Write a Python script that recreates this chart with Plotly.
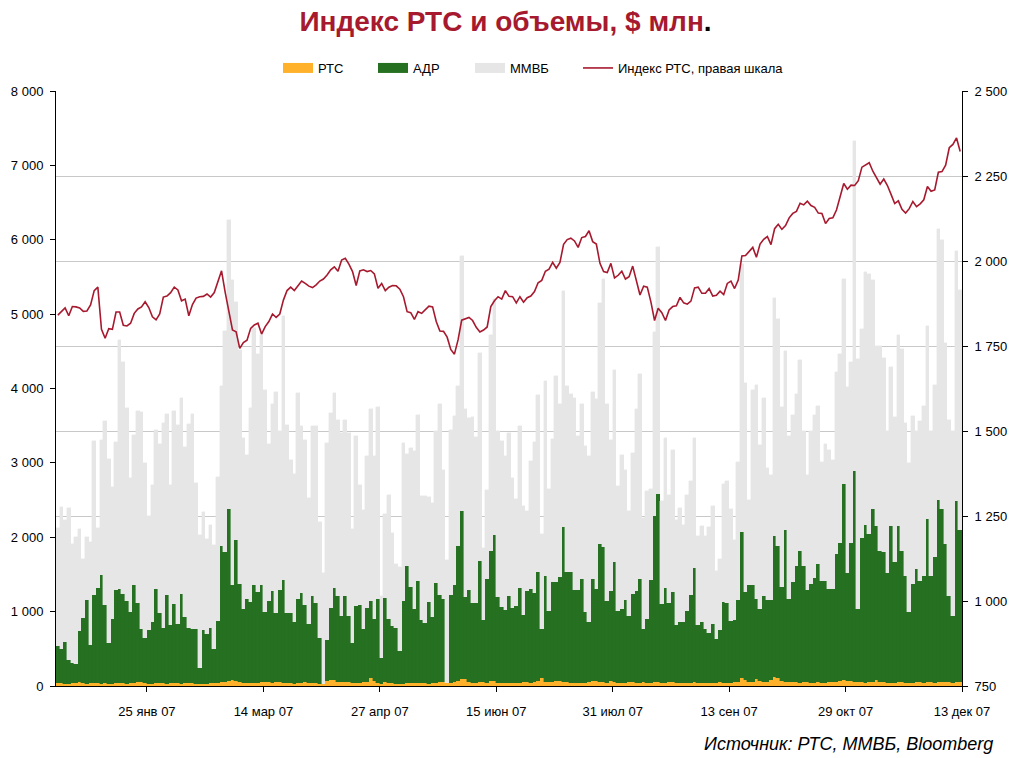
import plotly.graph_objects as go

# ---------------- data ----------------
rts = [35, 45, 30, 25, 40, 38, 50, 42, 30, 35,
       45, 40, 30, 35, 32, 28, 40, 45, 38, 30,
       35, 42, 48, 50, 36, 30, 28, 35, 40, 42,
       30, 38, 42, 35, 30, 40, 45, 38, 30, 25,
       28, 32, 35, 40, 45, 55, 60, 70, 85, 62,
       55, 40, 38, 35, 42, 45, 50, 52, 48, 45,
       50, 48, 42, 38, 35, 30, 40, 45, 50, 42,
       38, 35, 30, 28, 65, 80, 75, 60, 55, 58,
       50, 45, 40, 42, 55, 60, 110, 70, 45, 30,
       60, 40, 35, 30, 28, 32, 35, 40, 42, 45,
       40, 35, 30, 38, 42, 55, 60, 35, 40, 50,
       65, 95, 90, 60, 45, 40, 55, 50, 45, 70,
       65, 45, 40, 38, 35, 40, 42, 45, 50, 48,
       45, 50, 70, 105, 60, 50, 55, 70, 65, 55,
       50, 45, 42, 40, 38, 42, 60, 70, 72, 55,
       50, 45, 70, 55, 45, 42, 40, 50, 60, 45,
       40, 55, 45, 42, 48, 60, 45, 40, 55, 50,
       45, 42, 38, 40, 42, 55, 45, 40, 38, 35,
       40, 45, 50, 42, 38, 45, 50, 55, 110, 80,
       60, 55, 95, 70, 60, 55, 85, 120, 110, 65,
       55, 50, 60, 55, 45, 50, 55, 45, 40, 50,
       45, 40, 50, 55, 60, 65, 80, 70, 65, 60,
       55, 50, 45, 55, 60, 75, 55, 50, 45, 40,
       45, 50, 48, 42, 40, 45, 50, 55, 45, 50,
       48, 45, 55, 60, 50, 48, 45, 55, 60]

adr = [503, 457, 562, 325, 274, 262, 689, 877, 1126, 521,
       1174, 1278, 1458, 1050, 546, 873, 1251, 1259, 1194, 1113,
       965, 1316, 1063, 716, 609, 723, 832, 1269, 937, 738,
       1189, 778, 1056, 799, 1202, 883, 735, 724, 732, 217,
       725, 667, 740, 462, 829, 1827, 1746, 2310, 1273, 1901,
       1316, 995, 1132, 1094, 1316, 1219, 1308, 943, 1095, 1232,
       931, 1243, 1383, 943, 946, 830, 1130, 1205, 1039, 792,
       1172, 1076, 615, 0, 553, 969, 1243, 1150, 886, 1152,
       891, 533, 1036, 1047, 711, 989, 1033, 831, 1125, 346,
       1123, 861, 772, 750, 443, 1111, 1578, 1291, 998, 1367,
       847, 817, 1099, 894, 1343, 1169, 1110, 0, 1184, 1308,
       1817, 2258, 1107, 1231, 1071, 1076, 1626, 837, 1394, 1745,
       1965, 1152, 1022, 984, 1175, 1009, 1034, 1273, 905, 1229,
       1259, 1200, 1463, 661, 1419, 958, 1343, 1328, 1400, 2083,
       1483, 1488, 1253, 1255, 1401, 953, 800, 1369, 1232, 1854,
       1819, 1098, 1207, 1612, 963, 993, 1116, 891, 1177, 1232,
       1399, 711, 856, 1383, 2238, 2521, 1057, 1278, 1061, 1214,
       775, 818, 822, 968, 1182, 1532, 775, 820, 728, 678,
       794, 587, 703, 1087, 1078, 829, 837, 1101, 1961, 1184,
       1298, 1303, 1075, 965, 1150, 1101, 1071, 1897, 1767, 1265,
       2038, 1121, 1337, 1563, 1765, 1563, 1236, 1328, 1414, 1592,
       1366, 1371, 1255, 1250, 1711, 1860, 2637, 1451, 1860, 2825,
       986, 1942, 2115, 1990, 2321, 2080, 1755, 1750, 1476, 2110,
       1621, 2100, 1762, 1432, 949, 1332, 1519, 1356, 1429, 2197,
       1426, 1693, 2442, 2317, 1856, 1161, 895, 2427, 2033]

mmvb = [1582, 1905, 1640, 2039, 1595, 1703, 1372, 788, 847, 1384,
        2075, 802, 1819, 2482, 2474, 1779, 1990, 3348, 3124, 2590,
        1801, 2017, 2586, 2918, 2349, 1533, 1842, 2138, 2277, 2756,
        2438, 1886, 2599, 2675, 2636, 2290, 2743, 2895, 1963, 1788,
        1586, 1277, 1390, 1394, 1941, 2156, 2967, 3885, 4101, 3204,
        3147, 2295, 1936, 2604, 3451, 3200, 3361, 2985, 2111, 2514,
        2972, 2138, 3550, 2528, 2058, 1990, 2769, 2246, 2219, 1698,
        2286, 2385, 1560, 1496, 2649, 2621, 2621, 2366, 2461, 2366,
        2461, 1533, 2285, 1613, 1600, 2043, 2581, 2191, 2581, 834,
        1130, 1667, 1250, 865, 1133, 2124, 1506, 1869, 2120, 2232,
        1668, 1703, 1408, 1528, 2044, 2567, 1734, 1659, 2218, 2272,
        2152, 3428, 2527, 2312, 2505, 2236, 2796, 968, 1196, 2904,
        3173, 2232, 2232, 2070, 2192, 1752, 1438, 2178, 1465, 1076,
        1721, 2031, 2380, 1278, 2618, 1641, 1923, 2770, 2326, 3173,
        2501, 2393, 2577, 2066, 2352, 2232, 2232, 2514, 2555, 3237,
        3603, 2648, 2030, 2582, 1681, 2071, 1748, 1412, 1896, 2447,
        2756, 1493, 1721, 1224, 2474, 3321, 1385, 2016, 1452, 1909,
        1412, 1533, 1305, 1560, 1532, 1747, 1197, 1291, 1251, 1425,
        1586, 914, 955, 1587, 1640, 1506, 1076, 1856, 3603, 2810,
        1143, 2622, 2877, 2205, 2662, 1775, 1681, 3200, 3064, 2415,
        2416, 2190, 2247, 2314, 2574, 1810, 1546, 2050, 2190, 2122,
        1599, 1844, 1873, 1734, 2449, 2540, 2756, 2502, 2430, 4442,
        3357, 2809, 3400, 3500, 3078, 2411, 2756, 2613, 1907, 2143,
        1949, 2565, 2722, 2064, 2016, 2253, 1859, 2151, 2290, 2593,
        1954, 2309, 3649, 3620, 2708, 2363, 2488, 3361, 3236]

rts_index = [1841, 1853, 1862, 1839, 1866, 1865, 1862, 1852, 1853, 1871,
             1913, 1923, 1799, 1773, 1801, 1799, 1850, 1850, 1811, 1809,
             1817, 1846, 1859, 1865, 1880, 1863, 1836, 1827, 1844, 1894,
             1897, 1907, 1923, 1915, 1883, 1888, 1839, 1872, 1891, 1895,
             1896, 1903, 1894, 1907, 1939, 1971, 1908, 1851, 1797, 1792,
             1743, 1760, 1767, 1802, 1812, 1817, 1785, 1807, 1822, 1844,
             1834, 1844, 1885, 1913, 1923, 1913, 1926, 1941, 1934, 1926,
             1922, 1930, 1941, 1947, 1959, 1974, 1983, 1970, 2003, 2008,
             1991, 1969, 1928, 1971, 1974, 1969, 1972, 1962, 1920, 1934,
             1913, 1923, 1928, 1927, 1917, 1895, 1851, 1848, 1828, 1851,
             1846, 1858, 1867, 1865, 1822, 1794, 1793, 1776, 1740, 1726,
             1768, 1826, 1829, 1834, 1825, 1805, 1791, 1797, 1806, 1866,
             1883, 1895, 1888, 1913, 1896, 1895, 1877, 1895, 1879, 1892,
             1897, 1910, 1936, 1943, 1970, 1976, 1996, 1979, 1996, 2049,
             2063, 2067, 2059, 2040, 2069, 2072, 2089, 2057, 2050, 1993,
             1969, 1966, 1993, 1950, 1958, 1970, 1947, 1954, 1985, 1942,
             1900, 1926, 1923, 1880, 1825, 1861, 1848, 1825, 1856, 1866,
             1868, 1893, 1877, 1873, 1882, 1921, 1923, 1905, 1905, 1919,
             1897, 1899, 1911, 1901, 1934, 1941, 1919, 1944, 2015, 2016,
             2027, 2040, 2011, 2050, 2064, 2072, 2048, 2095, 2108, 2093,
             2104, 2127, 2140, 2146, 2170, 2165, 2176, 2163, 2158, 2141,
             2140, 2110, 2125, 2127, 2150, 2188, 2228, 2211, 2223, 2222,
             2236, 2276, 2282, 2289, 2264, 2245, 2226, 2241, 2222, 2196,
             2169, 2177, 2152, 2141, 2154, 2175, 2160, 2168, 2180, 2219,
             2205, 2209, 2261, 2263, 2282, 2333, 2343, 2362, 2322]

date_labels = ["25 янв 07", "14 мар 07", "27 апр 07", "15 июн 07",
               "31 июл 07", "13 сен 07", "29 окт 07", "13 дек 07"]
label_first = 25      # first labelled category boundary
label_step = 32       # label interval (categories)

left_ticks = [0, 1000, 2000, 3000, 4000, 5000, 6000, 7000, 8000]
left_labels = ["0", "1 000", "2 000", "3 000", "4 000", "5 000", "6 000", "7 000", "8 000"]
right_ticks = [750, 1000, 1250, 1500, 1750, 2000, 2250, 2500]
right_labels = ["750", "1 000", "1 250", "1 500", "1 750", "2 000", "2 250", "2 500"]

# ---------------- figure ----------------
n = len(rts)
x = list(range(n))
xtickvals = [label_first - 0.5 + label_step * i for i in range(len(date_labels))]

C_RTS = "#FFB12B"
C_ADR = "#267021"
C_MMVB = "#E6E6E6"
C_LINE = "#A6192E"
FONT = "Liberation Sans, Arial, sans-serif"

W, H = 1011, 758
ML, MR, MT, MB = 56, 49, 91, 72
PW, PH = W - ML - MR, H - MT - MB

fig = go.Figure()
for vals, name, col in [(rts, "РТС", C_RTS), (adr, "АДР", C_ADR), (mmvb, "ММВБ", C_MMVB)]:
    fig.add_trace(go.Bar(x=x, y=vals, name=name, showlegend=False,
                         marker=dict(color=col, line=dict(width=0.4, color=col))))
fig.add_trace(go.Scatter(x=x, y=rts_index, name="Индекс РТС, правая шкала", yaxis="y2",
                         mode="lines", line=dict(color=C_LINE, width=1.6), showlegend=False))

# legend entries (rectangular swatches like the original), one legend per entry
legend_items = [("РТС", C_RTS, 10, 278), ("АДР", C_ADR, 10, 373),
                ("ММВБ", C_MMVB, 10, 470), ("Индекс РТС, правая шкала", C_LINE, 1.6, 578)]
legend_layouts = {}
for i, (name, col, lw, left_px) in enumerate(legend_items):
    key = "legend" if i == 0 else f"legend{i + 1}"
    fig.add_trace(go.Scatter(x=[None], y=[None], mode="lines", name=name,
                             line=dict(color=col, width=lw), legend=key, showlegend=True))
    legend_layouts[key] = dict(orientation="h", x=(left_px - ML) / PW, xanchor="left",
                               y=1 + (MT - 68) / PH, yanchor="middle",
                               font=dict(family=FONT, size=13, color="black"),
                               bgcolor="rgba(0,0,0,0)", borderwidth=0)

fig.update_layout(
    width=W, height=H,
    margin=dict(l=ML, r=MR, t=MT, b=MB, autoexpand=False),
    paper_bgcolor="white", plot_bgcolor="white",
    barmode="stack", bargap=0,
    font=dict(family=FONT, size=13, color="black"),
    title=dict(text='<b>Индекс РТС и объемы, $ млн<span style="color:black">.</span></b>',
               x=0.5, xanchor="center", y=1 - 21 / H, yanchor="middle",
               font=dict(family=FONT, size=28, color=C_LINE)),
    xaxis=dict(range=[-0.5, n - 0.5], tickmode="array", tickvals=xtickvals, ticktext=date_labels,
               ticks="outside", ticklen=5, tickcolor="black", showline=True, linecolor="black",
               linewidth=1, showgrid=False, zeroline=False, ticklabelstandoff=8,
               automargin=False, tickfont=dict(family=FONT, size=13)),
    yaxis=dict(range=[0, 8000], tickmode="array", tickvals=left_ticks, ticktext=left_labels,
               ticks="outside", ticklen=5, tickcolor="black", showline=True, linecolor="black",
               linewidth=1, showgrid=False, zeroline=False, ticklabelstandoff=4,
               automargin=False, tickfont=dict(family=FONT, size=13)),
    yaxis2=dict(range=[750, 2500], overlaying="y", side="right", tickmode="array",
                tickvals=right_ticks, ticktext=right_labels, ticks="outside", ticklen=5,
                tickcolor="black", showline=True, linecolor="black", linewidth=1,
                showgrid=True, gridcolor="#C8C8C8", gridwidth=1, zeroline=False,
                ticklabelstandoff=4, automargin=False, tickfont=dict(family=FONT, size=13)),
    annotations=[dict(text="<i>Источник: РТС, ММВБ, Bloomberg</i>", xref="paper", yref="paper",
                      x=(995 - ML) / PW, xanchor="right", y=(686 - 744) / PH, yanchor="middle",
                      showarrow=False, font=dict(family=FONT, size=18, color="black"))],
    **legend_layouts,
)

fig.write_html("out.html", config={"displayModeBar": False},
               post_script="document.body.style.margin='0';document.body.style.padding='0';")
